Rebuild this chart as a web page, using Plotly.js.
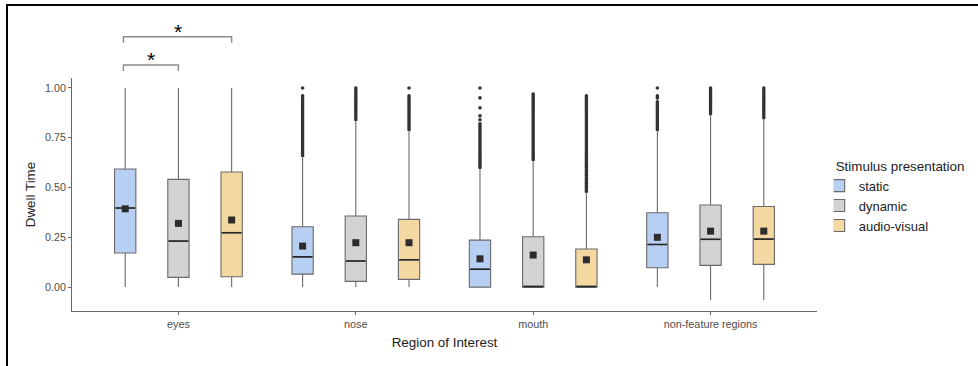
<!DOCTYPE html>
<html>
<head>
<meta charset="utf-8">
<script src="https://cdn.plot.ly/plotly-3.0.1.min.js"></script>
<style>
  html, body { margin: 0; padding: 0; background: #fff; }
  #chart { position: absolute; left: 0; top: 0; width: 978px; height: 366px; }
  #frame { position: absolute; left: 6px; top: 4px; width: 980px; height: 370px;
           border-top: 2px solid #000; border-left: 2px solid #000; pointer-events: none; }
</style>
</head>
<body>
<div id="chart"></div>
<div id="frame"></div>
<script>
// ---- data ----
const regions = ['eyes', 'nose', 'mouth', 'non-feature regions'];
const groups = ['static', 'dynamic', 'audio-visual'];
const fills = ['#b8cff4', '#d3d3d3', '#f3d8a2'];

// box statistics per stimulus (eyes, nose, mouth, non-feature regions)
const staticQ1 = [0.171, 0.065, 0.0, 0.097];
const staticMed = [0.397, 0.152, 0.090, 0.214];
const staticQ3 = [0.593, 0.303, 0.236, 0.373];
const staticLo = [0.0, 0.0, 0.0, 0.0];
const staticHi = [1.0, 0.65, 0.59, 0.78];
const staticMean = [0.393, 0.206, 0.142, 0.250];

const dynamicQ1 = [0.049, 0.029, 0.0, 0.109];
const dynamicMed = [0.231, 0.131, 0.002, 0.240];
const dynamicQ3 = [0.541, 0.357, 0.253, 0.412];
const dynamicLo = [0.0, 0.0, 0.0, -0.065];
const dynamicHi = [1.0, 0.83, 0.63, 0.86];
const dynamicMean = [0.320, 0.223, 0.161, 0.281];

const avQ1 = [0.052, 0.039, 0.0, 0.114];
const avMed = [0.273, 0.137, 0.002, 0.241];
const avQ3 = [0.578, 0.340, 0.191, 0.405];
const avLo = [0.0, 0.0, 0.0, -0.065];
const avHi = [1.0, 0.78, 0.47, 0.84];
const avMean = [0.337, 0.223, 0.137, 0.281];

// outliers
const outNoseStatic = [1.00, 0.96, 0.95, 0.94, 0.93, 0.92, 0.91, 0.90, 0.89, 0.88, 0.87, 0.86, 0.85, 0.84, 0.83, 0.82, 0.81, 0.80, 0.79, 0.78, 0.77, 0.76, 0.75, 0.74, 0.73, 0.72, 0.71, 0.70, 0.69, 0.68, 0.67, 0.66];
const outNoseDynamic = [1.00, 0.99, 0.98, 0.97, 0.96, 0.95, 0.94, 0.93, 0.92, 0.91, 0.90, 0.89, 0.88, 0.87, 0.86, 0.85, 0.84];
const outNoseAv = [1.00, 0.96, 0.95, 0.94, 0.93, 0.92, 0.91, 0.90, 0.89, 0.88, 0.87, 0.86, 0.85, 0.84, 0.83, 0.82, 0.81, 0.80, 0.79];
const outMouthStatic = [1.00, 0.95, 0.90, 0.86, 0.84, 0.82, 0.81, 0.80, 0.79, 0.78, 0.77, 0.76, 0.75, 0.74, 0.73, 0.72, 0.71, 0.70, 0.69, 0.68, 0.67, 0.66, 0.65, 0.64, 0.63, 0.62, 0.61, 0.60];
const outMouthDynamic = [0.97, 0.96, 0.95, 0.94, 0.93, 0.92, 0.91, 0.90, 0.89, 0.88, 0.87, 0.86, 0.85, 0.84, 0.83, 0.82, 0.81, 0.80, 0.79, 0.78, 0.77, 0.76, 0.75, 0.74, 0.73, 0.72, 0.71, 0.70, 0.69, 0.68, 0.67, 0.66, 0.65, 0.64];
const outMouthAv = [0.96, 0.95, 0.94, 0.93, 0.92, 0.91, 0.90, 0.89, 0.88, 0.87, 0.86, 0.85, 0.84, 0.83, 0.82, 0.81, 0.80, 0.79, 0.78, 0.77, 0.76, 0.75, 0.74, 0.73, 0.72, 0.71, 0.70, 0.69, 0.68, 0.67, 0.66, 0.65, 0.64, 0.63, 0.62, 0.61, 0.60, 0.59, 0.58, 0.57, 0.56, 0.55, 0.54, 0.53, 0.52, 0.51, 0.50, 0.49, 0.48];
const outNfStatic = [1.00, 0.96, 0.95, 0.93, 0.92, 0.91, 0.90, 0.89, 0.88, 0.87, 0.86, 0.85, 0.84, 0.83, 0.82, 0.81, 0.80, 0.79];
const outNfDynamic = [1.00, 0.99, 0.98, 0.97, 0.96, 0.95, 0.94, 0.93, 0.92, 0.91, 0.90, 0.89, 0.88, 0.87];
const outNfAv = [1.00, 0.99, 0.98, 0.97, 0.96, 0.95, 0.94, 0.93, 0.92, 0.91, 0.90, 0.89, 0.88, 0.87, 0.86, 0.85];

// ---- build ----
const stats = [
  {q1: staticQ1, med: staticMed, q3: staticQ3, lo: staticLo, hi: staticHi, mean: staticMean,
   out: [[], outNoseStatic, outMouthStatic, outNfStatic]},
  {q1: dynamicQ1, med: dynamicMed, q3: dynamicQ3, lo: dynamicLo, hi: dynamicHi, mean: dynamicMean,
   out: [[], outNoseDynamic, outMouthDynamic, outNfDynamic]},
  {q1: avQ1, med: avMed, q3: avQ3, lo: avLo, hi: avHi, mean: avMean,
   out: [[], outNoseAv, outMouthAv, outNfAv]}
];

const traces = [];
stats.forEach((s, g) => {
  traces.push({
    type: 'box', name: groups[g], x: regions,
    q1: s.q1, median: s.med, q3: s.q3, lowerfence: s.lo, upperfence: s.hi,
    fillcolor: fills[g], line: {color: '#6a6a6a', width: 1.1}, whiskerwidth: 0,
    boxpoints: false, offsetgroup: groups[g], alignmentgroup: 'a',
    hoverinfo: 'skip'
  });
});
stats.forEach((s, g) => {
  const ox = [], oy = [];
  s.out.forEach((arr, i) => arr.forEach(v => { ox.push(regions[i]); oy.push(v); }));
  traces.push({
    type: 'scatter', mode: 'markers', x: ox, y: oy, showlegend: false,
    offsetgroup: groups[g], alignmentgroup: 'a',
    marker: {color: '#333333', size: 3.6}, hoverinfo: 'skip', cliponaxis: false
  });
  traces.push({
    type: 'scatter', mode: 'markers', x: regions, y: s.med, showlegend: false,
    offsetgroup: groups[g], alignmentgroup: 'a',
    marker: {symbol: 'line-ew', size: 14, line: {color: '#262626', width: 1.6}}, hoverinfo: 'skip'
  });
  traces.push({
    type: 'scatter', mode: 'markers', x: regions, y: s.mean, showlegend: false,
    offsetgroup: groups[g], alignmentgroup: 'a',
    marker: {symbol: 'square', color: '#2d2d2d', size: 7}, hoverinfo: 'skip'
  });
});

const brk = {color: '#8a8a8a', width: 1.4};
const layout = {
  width: 978, height: 366,
  margin: {l: 72, r: 160, t: 78, b: 55},
  paper_bgcolor: '#fff', plot_bgcolor: '#fff',
  font: {family: 'Liberation Sans, Arial, sans-serif', color: '#000'},
  boxmode: 'group', boxgap: 0.1, boxgroupgap: 0.6,
  scattermode: 'group', scattergap: 0.1,
  showlegend: true,
  legend: {
    x: 1.021, xanchor: 'left', y: 0.677, yanchor: 'top',
    title: {text: 'Stimulus presentation', font: {size: 13.4, color: '#222'}},
    font: {size: 13, color: '#222'}, indentation: -15, tracegroupgap: 0,
    bgcolor: 'rgba(0,0,0,0)'
  },
  xaxis: {
    type: 'category', categoryorder: 'array', categoryarray: regions,
    range: [-0.6, 3.6], showline: true, linecolor: '#666', linewidth: 1,
    ticks: 'outside', ticklen: 3, tickcolor: '#666', showgrid: false, zeroline: false,
    tickfont: {size: 10.8, color: '#4d4d4d'},
    title: {text: 'Region of Interest', font: {size: 13.4, color: '#222'}, standoff: 8}
  },
  yaxis: {
    range: [-0.12, 1.05], tickvals: [0, 0.25, 0.5, 0.75, 1],
    ticktext: ['0.00', '0.25', '0.50', '0.75', '1.00'],
    showline: true, linecolor: '#666', linewidth: 1,
    ticks: 'outside', ticklen: 3, tickcolor: '#666', showgrid: false, zeroline: false,
    tickfont: {size: 10.7, color: '#4d4d4d'},
    title: {text: 'Dwell Time', font: {size: 13.4, color: '#222'}, standoff: 6}
  },
  shapes: [
    {type: 'path', xref: 'x', yref: 'paper', path: 'M -0.31,1.030 L -0.31,1.056 L 0,1.056 L 0,1.030', line: brk},
    {type: 'path', xref: 'x', yref: 'paper', path: 'M -0.31,1.151 L -0.31,1.177 L 0.3,1.177 L 0.3,1.151', line: brk}
  ],
  annotations: [
    {xref: 'x', yref: 'paper', x: -0.155, y: 1.022, yanchor: 'bottom', text: '*', showarrow: false, font: {size: 21, color: '#000'}},
    {xref: 'x', yref: 'paper', x: -0.005, y: 1.142, yanchor: 'bottom', text: '*', showarrow: false, font: {size: 21, color: '#000'}}
  ]
};

Plotly.newPlot('chart', traces, layout, {displayModeBar: false, staticPlot: true});
</script>
</body>
</html>
